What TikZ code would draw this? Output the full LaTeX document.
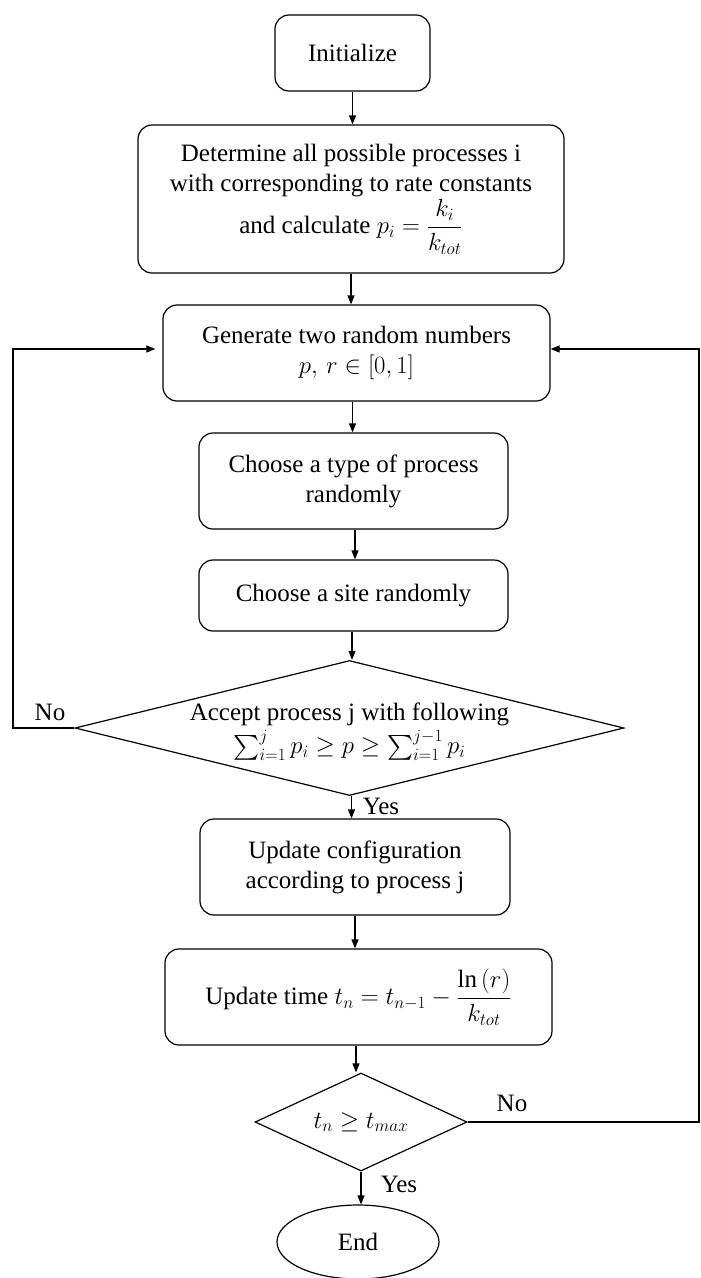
\documentclass[tikz,border=0pt]{standalone}
\usepackage{amsmath}
\usepackage{fontspec}
\setmainfont{Liberation Serif}
\usetikzlibrary{arrows.meta,shapes.geometric}

\begin{document}
\begin{tikzpicture}[x=1bp,y=-1bp,
  every node/.style={font=\fontsize{25bp}{30bp}\selectfont},
  stepbox/.style={draw, rounded corners=14bp, line width=1.2bp, align=center, inner sep=0pt},
  decision/.style={draw, diamond, line width=1.2bp, inner sep=0pt},
  terminal/.style={draw, ellipse, line width=1.2bp, inner sep=0pt},
  flow/.style={line width=1.2bp, -{Triangle[length=9bp,width=7bp]}},
  tag/.style={inner sep=0pt, align=center}]
\useasboundingbox (0,0) rectangle (701,1278);

% process boxes
\node[stepbox, minimum width=155bp, minimum height=76bp] (init) at (352.5,53) {Initialize};
\node[stepbox, minimum width=426bp, minimum height=148bp] (det) at (351,199)
  {Determine all possible processes i\\ with corresponding to rate constants\\[2bp]
   and calculate $p_i=\dfrac{k_i}{k_{tot}}$};
\node[stepbox, minimum width=387bp, minimum height=96bp] (gen) at (356.5,353)
  {Generate two random numbers\\ $p,\, r \in [0,1]$};
\node[stepbox, minimum width=309bp, minimum height=96bp] (type) at (353.5,481)
  {Choose a type of process\\ randomly};
\node[stepbox, minimum width=309bp, minimum height=71bp] (site) at (353.5,595.5)
  {Choose a site randomly};

% acceptance test
\node[decision, minimum width=549bp, minimum height=135bp] (accept) at (349.5,728) {};
\node[tag] (accepttext) at ([yshift=-4bp]accept.center)
  {Accept process j with following\\[3bp]
   $\textstyle\sum_{i=1}^{j} p_i \geq p \geq \sum_{i=1}^{j-1} p_i$};

\node[stepbox, minimum width=310bp, minimum height=96bp] (upd) at (355,867)
  {Update configuration\\ according to process j};
\node[stepbox, minimum width=387bp, minimum height=96bp] (time) at (358.5,997)
  {Update time $t_n=t_{n-1}-\dfrac{\ln\,(r)}{k_{tot}}$};

% stopping test
\node[decision, minimum width=212bp, minimum height=98bp] (tcheck) at (361,1122) {};
\node[tag] (tchecktext) at (tcheck.center) {$t_n \geq t_{max}$};

\node[terminal, minimum width=162bp, minimum height=74bp] (end) at (358,1242) {End};

% main flow
\draw[flow] (init.south) -- (init.south |- det.north);
\draw[flow] (det.south) -- (det.south |- gen.north);
\draw[flow] ([xshift=-4bp]gen.south) -- ([xshift=-4bp]gen.south |- type.north);
\draw[flow] ([xshift=1.5bp]type.south) -- ([xshift=1.5bp]type.south |- site.north);
\draw[flow] ([xshift=-1.5bp]site.south) -- ([xshift=-1.5bp]site.south |- accept.north);
\draw[flow] ([xshift=2bp]accept.south) -- ([xshift=2bp]accept.south |- upd.north);
\draw[flow] (upd.south) -- (upd.south |- time.north);
\draw[flow] ([xshift=-2.5bp]time.south) -- ([xshift=-2.5bp]time.south |- tcheck.north);
\draw[flow] (tcheck.south) -- (tcheck.south |- end.north);

% loops back to the random number step
\coordinate (leftturn) at (13,728);
\coordinate (rightturn) at (699,1122);
\draw[flow, shorten >=7bp] (accept.west) -- (leftturn) |- ([yshift=4bp]gen.west);
\draw[flow] (tcheck.east) -- (rightturn) |- ([yshift=4bp]gen.east);

% branch labels
\node[tag] (noleft) at (50,712) {No};
\node[tag] (yesaccept) at (381,806) {Yes};
\node[tag] (noright) at (512,1103) {No};
\node[tag] (yesend) at (399,1184) {Yes};
\end{tikzpicture}
\end{document}
